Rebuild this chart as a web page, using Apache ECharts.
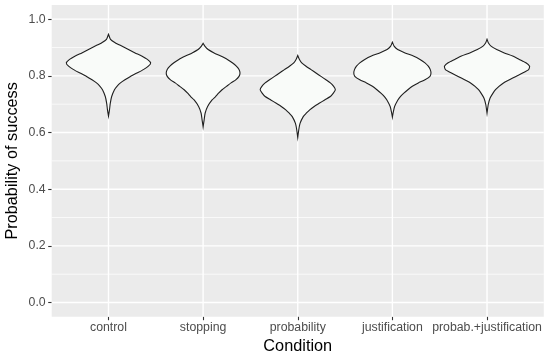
<!DOCTYPE html>
<html>
<head>
<meta charset="utf-8">
<script src="https://cdn.jsdelivr.net/npm/echarts@6/dist/echarts.min.js"></script>
<style>
html,body{margin:0;padding:0;background:#fff;}
#c{width:550px;height:357px;}
</style>
</head>
<body>
<div id="c"></div>
<script>
// ---- data ----
const categories = ['control', 'stopping', 'probability', 'justification', 'probab.+justification'];
const yTicks = [0, 0.2, 0.4, 0.6, 0.8, 1.0];
const yMinor = [0.1, 0.3, 0.5, 0.7, 0.9];

// violin profiles: [probability value, relative density]
const controlProfile = [[0.658,0],[0.680,1],[0.703,1.8],[0.727,3.2],[0.751,6],[0.763,8.5],[0.775,12],[0.786,16.5],[0.798,22],[0.810,28.5],[0.822,35],[0.834,40],[0.846,42.3],[0.858,39],[0.870,33.3],[0.881,26.7],[0.893,20],[0.905,13.3],[0.917,6.7],[0.929,2],[0.947,0]];
const stoppingProfile = [[0.620,0],[0.644,1],[0.668,2],[0.692,4.5],[0.715,9],[0.727,12.5],[0.739,15.5],[0.751,19],[0.763,23.5],[0.775,28],[0.786,32.7],[0.798,36],[0.810,37],[0.822,36],[0.834,33.3],[0.846,29.3],[0.858,24.3],[0.870,17.7],[0.881,11],[0.893,5],[0.905,1.7],[0.915,0]];
const probabilityProfile = [[0.582,0],[0.609,1],[0.632,2.3],[0.656,5.5],[0.668,8.5],[0.680,12],[0.692,16.5],[0.703,21.5],[0.715,27],[0.727,32.7],[0.739,35.7],[0.751,37.7],[0.763,36],[0.775,32.7],[0.786,28.3],[0.798,23.3],[0.810,18.3],[0.822,13.3],[0.834,8.3],[0.846,4],[0.858,1.7],[0.872,0]];
const justificationProfile = [[0.654,0],[0.672,0.9],[0.692,2.2],[0.715,5.5],[0.727,8],[0.739,11.5],[0.751,15.5],[0.763,20],[0.775,26],[0.786,32.7],[0.798,37.7],[0.810,38.7],[0.822,38],[0.834,36],[0.846,32.7],[0.858,27.7],[0.870,21],[0.881,12.7],[0.893,5.3],[0.905,1.7],[0.919,0]];
const probabJustProfile = [[0.668,0],[0.698,1.2],[0.721,3],[0.739,6],[0.751,8.5],[0.763,12],[0.775,16.5],[0.786,22.5],[0.798,29],[0.810,35.7],[0.822,41.7],[0.834,42.7],[0.846,39],[0.858,32.3],[0.870,25.7],[0.881,17.3],[0.893,9.7],[0.905,4],[0.917,1.3],[0.929,0]];

const profiles = [controlProfile, stoppingProfile, probabilityProfile, justificationProfile, probabJustProfile];
const maxDensity = Math.max(...profiles.map(p => Math.max(...p.map(d => d[1]))));
const maxHalfWidth = 0.45;

const chart = echarts.init(document.getElementById('c'), null, {renderer: 'canvas'});
const FONT = 'Liberation Sans, Arial, sans-serif';
const xPositions = categories.map((c, i) => i + 1);

chart.setOption({
  animation: false,
  grid: {left: 51.7, right: 6.2, top: 5, bottom: 40.3, show: true, backgroundColor: '#EBEBEB', borderWidth: 0, containLabel: false, outerBoundsMode: 'none'},
  xAxis: {
    type: 'value', min: 0.4, max: 5.6,
    axisLine: {show: false, onZero: false},
    splitLine: {show: false},
    axisTick: {show: true, customValues: xPositions, length: 3.5, lineStyle: {color: '#333333', width: 1.1}},
    axisLabel: {customValues: xPositions, formatter: v => categories[Math.round(v) - 1] || '', color: '#4D4D4D', fontSize: 12.3, fontFamily: FONT, margin: 5},
    name: 'Condition', nameLocation: 'middle', nameGap: 18,
    nameTextStyle: {color: '#000', fontSize: 16.3, fontFamily: FONT}
  },
  yAxis: {
    type: 'value', min: -0.05, max: 1.05,
    axisLine: {show: false, onZero: false},
    splitLine: {show: false},
    axisTick: {show: true, customValues: yTicks, length: 3.5, lineStyle: {color: '#333333', width: 1.1}},
    axisLabel: {customValues: yTicks, formatter: v => v.toFixed(1), color: '#4D4D4D', fontSize: 12.3, fontFamily: FONT, margin: 6},
    name: 'Probability of success', nameLocation: 'middle', nameGap: 31, nameMoveOverlap: false,
    nameTextStyle: {color: '#000', fontSize: 16.3, fontFamily: FONT}
  },
  series: [
    {
      type: 'custom', silent: true, z: 1,
      data: [0],
      renderItem: function (params, api) {
        const children = [];
        const x0 = api.coord([0.4, 0])[0], x1 = api.coord([5.6, 0])[0];
        const yb = api.coord([0.4, -0.05])[1], yt = api.coord([0.4, 1.05])[1];
        yMinor.forEach(v => {
          const y = api.coord([0.4, v])[1];
          children.push({type: 'line', shape: {x1: x0, y1: y, x2: x1, y2: y}, style: {stroke: '#FFFFFF', lineWidth: 0.7}});
        });
        yTicks.forEach(v => {
          const y = api.coord([0.4, v])[1];
          children.push({type: 'line', shape: {x1: x0, y1: y, x2: x1, y2: y}, style: {stroke: '#FFFFFF', lineWidth: 1.4}});
        });
        xPositions.forEach(v => {
          const x = api.coord([v, 0])[0];
          children.push({type: 'line', shape: {x1: x, y1: yb, x2: x, y2: yt}, style: {stroke: '#FFFFFF', lineWidth: 1.4}});
        });
        return {type: 'group', children: children};
      }
    },
    {
      type: 'custom', silent: true, z: 2,
      data: categories.map((c, i) => [i]),
      renderItem: function (params, api) {
        const idx = api.value(0);
        const prof = profiles[idx];
        const cx = idx + 1;
        const pts = [];
        prof.forEach(p => {
          const hw = p[1] / maxDensity * maxHalfWidth;
          pts.push(api.coord([cx + hw, p[0]]));
        });
        for (let k = prof.length - 1; k >= 0; k--) {
          const p = prof[k];
          const hw = p[1] / maxDensity * maxHalfWidth;
          pts.push(api.coord([cx - hw, p[0]]));
        }
        return {
          type: 'polygon',
          shape: {points: pts, smooth: 0.2},
          style: {fill: '#F9FBF9', stroke: '#1F1F1F', lineWidth: 1.1}
        };
      }
    }
  ]
});
</script>
</body>
</html>
